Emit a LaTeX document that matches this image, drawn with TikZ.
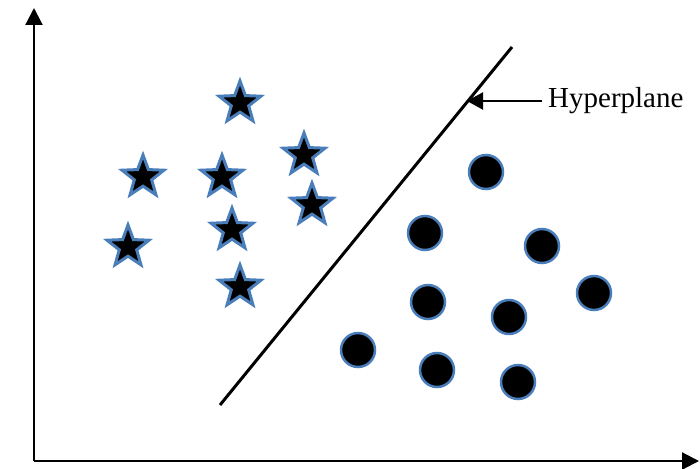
\documentclass[tikz,border=0pt]{standalone}
\usepackage{fontspec}
\setmainfont{Liberation Serif}
\usetikzlibrary{shapes.geometric,arrows.meta}
\definecolor{ringblue}{RGB}{74,126,187}

\begin{document}
\begin{tikzpicture}[x=1pt,y=-1pt]
	\useasboundingbox (0,0) rectangle (700,468);
	\coordinate (O) at (34,461);
	\coordinate (Y) at (34,8);
	\coordinate (X) at (699,461);
	\draw [line width=2.2pt,-{Triangle[length=17pt,width=17pt]}] (O) -- (Y);
	\draw [line width=2.2pt,-{Triangle[length=17pt,width=17pt]}] (O) -- (X);
	\begin{scope}[every node/.style={star,star points=5,star point ratio=2.4,minimum size=44pt,inner sep=0pt,fill=black,draw=ringblue,line width=3pt}]
	\node (s1) at (240,103) {};
	\node (s2) at (304,155) {};
	\node (s3) at (143,177) {};
	\node (s4) at (222,177) {};
	\node (s5) at (312,205) {};
	\node (s6) at (232,230) {};
	\node (s7) at (128,247) {};
	\node (s8) at (240,287) {};
	\end{scope}
	\begin{scope}[every node/.style={circle,minimum size=34pt,inner sep=0pt,fill=black,draw=ringblue,line width=2.5pt}]
	\node (c1) at (486,172) {};
	\node (c2) at (425,233) {};
	\node (c3) at (542,246) {};
	\node (c4) at (594,293) {};
	\node (c5) at (428,302) {};
	\node (c6) at (509,317) {};
	\node (c7) at (358,350) {};
	\node (c8) at (437,370) {};
	\node (c9) at (518,382) {};
	\end{scope}
	\coordinate (H1) at (220,405);
	\coordinate (H2) at (512,47);
	\draw [line width=3pt] (H1) -- (H2);
	\coordinate (T) at (467,101);
	\node [anchor=west,inner sep=0pt,font=\fontsize{29}{32}\selectfont] (lbl) at (548,101) {Hyperplane};
	\draw [line width=2.2pt,-{Triangle[length=16pt,width=17pt]}] (lbl.west) ++(-6,0) -- (T);
\end{tikzpicture}
\end{document}
